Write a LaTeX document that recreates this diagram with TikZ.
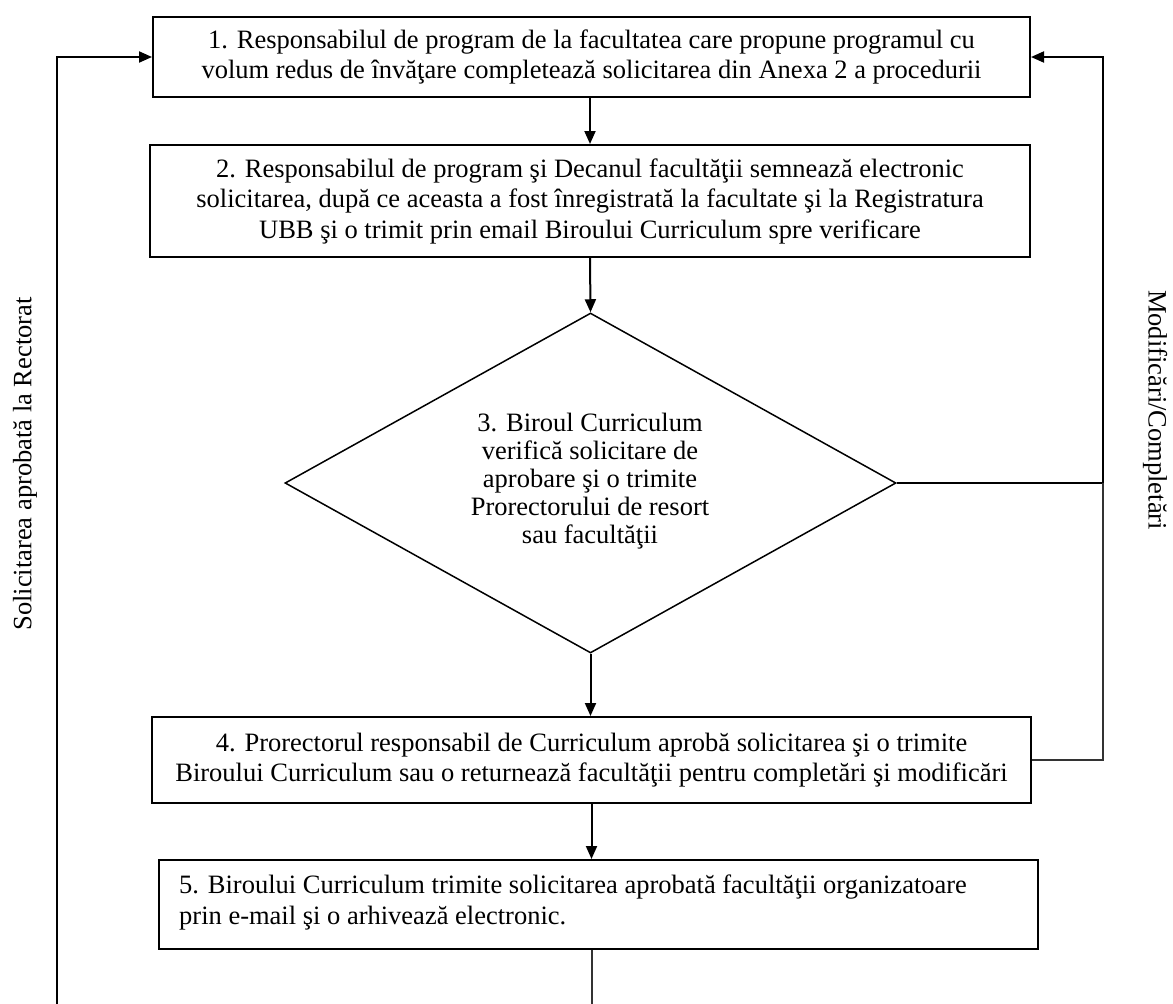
\documentclass[tikz,border=0pt]{standalone}
\usepackage{fontspec}
\setmainfont{Liberation Serif}
\usetikzlibrary{arrows.meta,shapes.geometric}
\begin{document}
\begin{tikzpicture}[x=1pt,y=-1pt,
  every node/.style={font=\fontsize{26.5}{30.5}\selectfont},
  procbox/.style={draw,line width=2pt,inner sep=0pt,align=center},
  flow/.style={line width=2pt,-{Triangle[length=13pt,width=11pt]}},
  thinline/.style={line width=1.3pt,draw=black!80}]
\useasboundingbox (0,0) rectangle (1173,1004);

\node[procbox,minimum width=877pt,minimum height=80pt] (b1) at (591.5,57)
  {1. Responsabilul de program de la facultatea care propune programul cu\\volum redus de învăţare completează solicitarea din Anexa 2 a procedurii};
\node[procbox,minimum width=880pt,minimum height=112pt] (b2) at (590,201)
  {2. Responsabilul de program şi Decanul facultăţii semnează electronic\\solicitarea, după ce aceasta a fost înregistrată la facultate şi la Registratura\\UBB şi o trimit prin email Biroului Curriculum spre verificare};
\node[draw,diamond,line width=1.5pt,minimum width=611pt,minimum height=340pt,inner sep=0pt,aspect=1.8] (d3) at (590.5,483) {};
\node[align=center,font=\fontsize{26.5}{28}\selectfont] (t3) at (590,481)
  {3. Biroul Curriculum\\verifică solicitare de\\aprobare şi o trimite\\Prorectorului de resort\\sau facultăţii};
\node[procbox,minimum width=879pt,minimum height=86pt] (b4) at (591.5,760)
  {4. Prorectorul responsabil de Curriculum aprobă solicitarea şi o trimite\\Biroului Curriculum sau o returnează facultăţii pentru completări şi modificări};
\node[procbox,minimum width=879pt,minimum height=89pt] (b5) at (598.5,904.5) {};
\node[align=left,anchor=west,inner sep=0pt] (t5) at (179,902.5)
  {5. Biroului Curriculum trimite solicitarea aprobată facultăţii organizatoare\\prin e-mail şi o arhivează electronic.};

\node[rotate=90] (lblL) at (25,464) {Solicitarea aprobată la Rectorat};
\node[rotate=-90] (lblR) at (1155,410) {Modificări/Completări};

\coordinate (rx) at (1103,0);
\coordinate (lb) at (57,1004);
\coordinate (bb) at (592,1004);

\draw[flow] (b2.north |- b1.south) -- (b2.north);
\draw[flow] (b2.south) -- (d3.north);
\draw[flow] (d3.south) -- (d3.south |- b4.north);
\draw[flow] (b4.south) -- (b4.south |- b5.north);
\draw[flow] (d3.east) -- (d3.east -| rx) -- (b1.east -| rx) -- (b1.east);
\draw[thinline] (b4.east) -- (b4.east -| rx) -- (d3.east -| rx);
\draw[flow] (lb) -- (lb |- b1.west) -- (b1.west);
\draw[thinline] (bb |- b5.south) -- (bb);
\end{tikzpicture}
\end{document}
